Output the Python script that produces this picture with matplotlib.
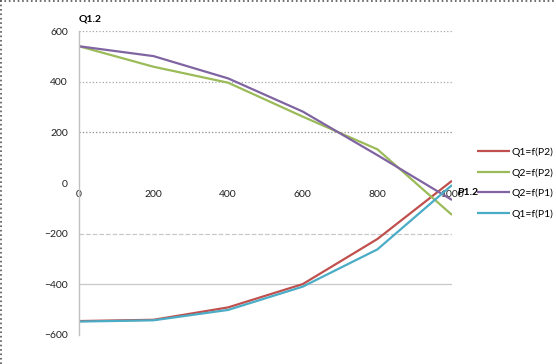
import matplotlib
matplotlib.use("Agg")
import matplotlib.pyplot as plt
from matplotlib.lines import Line2D

plt.rcParams['font.family'] = ['Lato', 'DejaVu Sans']

p_values = [0, 200, 400, 600, 800, 1000]
q1_f_p2 = [-545, -540, -491, -399, -221, 9]
q2_f_p2 = [540, 459, 396, 262, 133, -126]
q2_f_p1 = [540, 501, 413, 282, 110, -67]
q1_f_p1 = [-547, -542, -501, -409, -262, -8]

series_names = ["Q1=f(P2)", "Q2=f(P2)", "Q2=f(P1)", "Q1=f(P1)"]
series_colors = ["#C0504D", "#9BBB59", "#8064A2", "#4BACC6"]
y_ticks = [-600, -400, -200, 0, 200, 400, 600]
x_ticks = [0, 200, 400, 600, 800, 1000]

fig = plt.figure(figsize=(5.56, 3.64), dpi=100)
ax = fig.add_axes([0.142, 0.0797, 0.671, 0.835])

for name, vals, col in zip(series_names, [q1_f_p2, q2_f_p2, q2_f_p1, q1_f_p1], series_colors):
    ax.plot(p_values, vals, color=col, lw=1.6, label=name, solid_capstyle='butt')

ax.set_xlim(0, 1000)
ax.set_ylim(-600, 600)
ax.set_yticks(y_ticks)
ax.set_xticks(x_ticks)
ax.tick_params(length=0, labelsize=7.5, colors='#222222')
ax.tick_params(axis='y', pad=8)
ax.tick_params(axis='x', pad=5)

for s in ['top', 'right']:
    ax.spines[s].set_visible(False)
ax.spines['bottom'].set_position(('data', 0))
ax.spines['bottom'].set_visible(False)
ax.spines['left'].set_color('#BFBFBF')
ax.spines['left'].set_linewidth(1.0)

# horizontal grid lines, drawn the way the reference renders them
grid_styles = {600: (':', '#A6A6A6'), 400: (':', '#A6A6A6'), 200: (':', '#8C8C8C'),
               -200: ('--', '#C8C8C8'), -400: ('-', '#C8C8C8')}
for yv, (ls, c) in grid_styles.items():
    ax.axhline(yv, color=c, lw=0.9, ls=ls, zorder=0)

ax.text(0, 1.025, "Q1.2", transform=ax.transAxes, fontsize=7.5, fontweight='bold', ha='left', va='bottom')
ax.text(1.013, 0.468, "P1.2", transform=ax.transAxes, fontsize=7.5, fontweight='bold', ha='left', va='center')

ax.legend(loc='center left', bbox_to_anchor=(1.055, 0.5), frameon=False, fontsize=7.5,
          handlelength=3.2, handletextpad=0.1, labelspacing=1.05, borderaxespad=0)

# dotted frame on top and left edges
fig.add_artist(Line2D([0, 1], [0.998, 0.998], transform=fig.transFigure, color='#555555', lw=1.2, ls=':'))
fig.add_artist(Line2D([0.002, 0.002], [0, 1], transform=fig.transFigure, color='#555555', lw=1.2, ls=':'))

fig.savefig("out.png", dpi=100)
